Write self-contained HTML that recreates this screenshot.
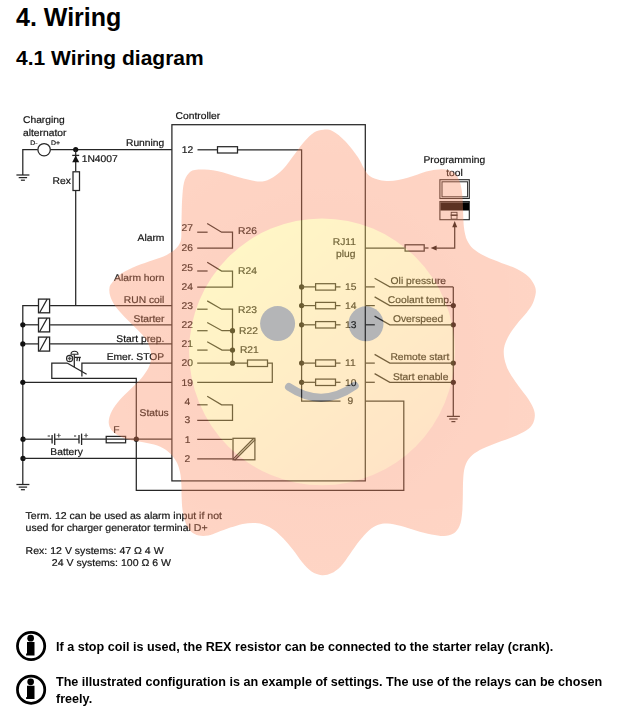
<!DOCTYPE html>
<html><head><meta charset="utf-8"><title>4. Wiring</title>
<style>
html,body{margin:0;padding:0;background:#fff;}
body{width:639px;height:714px;position:relative;overflow:hidden;font-family:"Liberation Sans",sans-serif;color:#000;}
h1,h2,p{margin:0;padding:0;position:absolute;white-space:nowrap;font-weight:bold;transform-origin:0 0;}
h1{left:16px;top:3.3px;font-size:25px;line-height:29px;}
h2{left:16px;top:45.9px;font-size:21px;line-height:24px;}
p{font-size:13px;line-height:16.5px;transform:scaleX(0.968);}
svg{position:absolute;left:0;top:0;will-change:transform;}
svg text{font-family:"Liberation Sans",sans-serif;text-rendering:geometricPrecision;stroke:#151515;stroke-width:0.2px;}
</style></head><body>
<h1>4. Wiring</h1>
<h2>4.1 Wiring diagram</h2>
<svg width="639" height="714" viewBox="0 0 639 714">
<rect x="171.9" y="124.7" width="193.4" height="356.2" fill="none" stroke="#262626" stroke-width="1.25"/>
<text transform="translate(175.6 118.9) scale(1.050 1)" font-size="9.80" text-anchor="start" fill="#151515">Controller</text>
<path d="M22.8 175.0 L22.8 149.5 L37.8 149.5" stroke="#262626" stroke-width="1.25" fill="none"/>
<circle cx="44.1" cy="149.7" r="6.2" fill="#fff" stroke="#262626" stroke-width="1.25"/>
<path d="M50.4 149.5 L171.9 149.5" stroke="#262626" stroke-width="1.25" fill="none"/>
<path d="M16.4 175.0 L29.4 175.0" stroke="#262626" stroke-width="1.25" fill="none"/>
<path d="M18.7 177.6 L27.1 177.6" stroke="#262626" stroke-width="1.25" fill="none"/>
<path d="M20.9 180.2 L24.9 180.2" stroke="#262626" stroke-width="1.25" fill="none"/>
<text transform="translate(23.0 123.0) scale(1.050 1)" font-size="9.80" text-anchor="start" fill="#151515">Charging</text>
<text transform="translate(23.0 135.6) scale(1.050 1)" font-size="9.80" text-anchor="start" fill="#151515">alternator</text>
<text transform="translate(30.3 144.6) scale(1.050 1)" font-size="6.60" text-anchor="start" fill="#151515">D-</text>
<text transform="translate(50.9 144.6) scale(1.050 1)" font-size="6.60" text-anchor="start" fill="#151515">D+</text>
<circle cx="75.7" cy="149.5" r="2.6" fill="#111"/>
<path d="M75.7 149.5 L75.7 171.3" stroke="#262626" stroke-width="1.25" fill="none"/>
<path d="M72.2 155.4 L79.2 155.4" stroke="#262626" stroke-width="1.30" fill="none"/>
<path d="M75.7 155.4L79.2 162.3L72.2 162.3Z" fill="#111"/>
<text transform="translate(81.7 161.9) scale(1.050 1)" font-size="9.80" text-anchor="start" fill="#151515">1N4007</text>
<rect x="73.0" y="171.8" width="6.5" height="18.7" fill="#fff" stroke="#262626" stroke-width="1.25"/>
<text transform="translate(52.6 183.9) scale(1.050 1)" font-size="9.80" text-anchor="start" fill="#151515">Rex</text>
<path d="M75.7 191.0 L75.7 305.6" stroke="#262626" stroke-width="1.25" fill="none"/>
<text transform="translate(164.3 146.0) scale(1.050 1)" font-size="9.80" text-anchor="end" fill="#151515">Running</text>
<text transform="translate(181.8 153.0) scale(1.050 1)" font-size="9.80" text-anchor="start" fill="#151515">12</text>
<path d="M197.5 149.8 L217.0 149.8" stroke="#262626" stroke-width="1.25" fill="none"/>
<rect x="217.5" y="146.7" width="20.0" height="6.3" fill="#fff" stroke="#262626" stroke-width="1.25"/>
<path d="M238.0 149.8 L301.6 149.8 L301.6 401.0 L340.5 401.0" stroke="#262626" stroke-width="1.25" fill="none"/>
<text transform="translate(181.6 230.7) scale(1.050 1)" font-size="9.80" text-anchor="start" fill="#151515">27</text>
<text transform="translate(181.6 250.7) scale(1.050 1)" font-size="9.80" text-anchor="start" fill="#151515">26</text>
<path d="M197.2 232.2 L207.6 232.2" stroke="#262626" stroke-width="1.25" fill="none"/>
<path d="M207.2 223.5 L221.6 232.2 L232.5 232.2 L232.5 248.0 L197.2 248.0" stroke="#262626" stroke-width="1.25" fill="none"/>
<text transform="translate(238.0 234.4) scale(1.050 1)" font-size="9.80" text-anchor="start" fill="#151515">R26</text>
<text transform="translate(181.6 270.7) scale(1.050 1)" font-size="9.80" text-anchor="start" fill="#151515">25</text>
<text transform="translate(181.6 289.8) scale(1.050 1)" font-size="9.80" text-anchor="start" fill="#151515">24</text>
<path d="M197.2 271.0 L207.6 271.0" stroke="#262626" stroke-width="1.25" fill="none"/>
<path d="M207.2 262.3 L221.6 271.0 L232.5 271.0 L232.5 287.0 L197.2 287.0" stroke="#262626" stroke-width="1.25" fill="none"/>
<text transform="translate(238.0 273.5) scale(1.050 1)" font-size="9.80" text-anchor="start" fill="#151515">R24</text>
<text transform="translate(181.6 308.8) scale(1.050 1)" font-size="9.80" text-anchor="start" fill="#151515">23</text>
<text transform="translate(181.6 327.6) scale(1.050 1)" font-size="9.80" text-anchor="start" fill="#151515">22</text>
<text transform="translate(181.6 346.7) scale(1.050 1)" font-size="9.80" text-anchor="start" fill="#151515">21</text>
<text transform="translate(181.6 365.7) scale(1.050 1)" font-size="9.80" text-anchor="start" fill="#151515">20</text>
<text transform="translate(181.6 385.7) scale(1.050 1)" font-size="9.80" text-anchor="start" fill="#151515">19</text>
<path d="M197.2 309.2 L207.6 309.2" stroke="#262626" stroke-width="1.25" fill="none"/>
<path d="M207.2 300.9 L221.6 309.2 L232.5 309.2 L232.5 363.2" stroke="#262626" stroke-width="1.25" fill="none"/>
<path d="M197.2 330.7 L207.6 330.7" stroke="#262626" stroke-width="1.25" fill="none"/>
<path d="M207.2 322.5 L222.0 330.7 L232.5 330.7" stroke="#262626" stroke-width="1.25" fill="none"/>
<path d="M197.2 350.1 L207.6 350.1" stroke="#262626" stroke-width="1.25" fill="none"/>
<path d="M207.2 341.8 L222.0 350.1 L232.5 350.1" stroke="#262626" stroke-width="1.25" fill="none"/>
<circle cx="232.5" cy="330.7" r="2.6" fill="#111"/>
<circle cx="232.5" cy="350.1" r="2.6" fill="#111"/>
<circle cx="232.5" cy="363.2" r="2.6" fill="#111"/>
<text transform="translate(238.0 312.5) scale(1.050 1)" font-size="9.80" text-anchor="start" fill="#151515">R23</text>
<text transform="translate(239.1 333.6) scale(1.050 1)" font-size="9.80" text-anchor="start" fill="#151515">R22</text>
<text transform="translate(239.9 352.5) scale(1.050 1)" font-size="9.80" text-anchor="start" fill="#151515">R21</text>
<path d="M197.2 363.2 L247.0 363.2" stroke="#262626" stroke-width="1.25" fill="none"/>
<rect x="247.5" y="360.0" width="20.0" height="6.5" fill="#fff" stroke="#262626" stroke-width="1.25"/>
<path d="M268.0 363.2 L272.3 363.2 L272.3 382.3 L197.2 382.3" stroke="#262626" stroke-width="1.25" fill="none"/>
<text transform="translate(184.4 404.5) scale(1.050 1)" font-size="9.80" text-anchor="start" fill="#151515">4</text>
<text transform="translate(184.4 423.2) scale(1.050 1)" font-size="9.80" text-anchor="start" fill="#151515">3</text>
<path d="M197.2 404.8 L207.6 404.8" stroke="#262626" stroke-width="1.25" fill="none"/>
<path d="M207.2 396.2 L221.6 404.8 L232.5 404.8 L232.5 420.4 L197.2 420.4" stroke="#262626" stroke-width="1.25" fill="none"/>
<text transform="translate(184.8 442.9) scale(1.050 1)" font-size="9.80" text-anchor="start" fill="#151515">1</text>
<text transform="translate(184.4 461.6) scale(1.050 1)" font-size="9.80" text-anchor="start" fill="#151515">2</text>
<path d="M197.2 439.4 L232.5 439.4" stroke="#262626" stroke-width="1.25" fill="none"/>
<path d="M197.2 458.8 L232.5 458.8" stroke="#262626" stroke-width="1.25" fill="none"/>
<rect x="233.0" y="438.3" width="21.9" height="21.5" fill="none" stroke="#262626" stroke-width="1.25"/>
<path d="M232.8 459.4 L253.8 438.2" stroke="#262626" stroke-width="1.25" fill="none"/>
<path d="M234.6 460.2 L255.2 439.6" stroke="#262626" stroke-width="1.25" fill="none"/>
<circle cx="301.6" cy="286.9" r="2.6" fill="#111"/>
<path d="M301.6 286.9 L315.1 286.9" stroke="#262626" stroke-width="1.25" fill="none"/>
<rect x="315.6" y="283.7" width="19.9" height="6.4" fill="none" stroke="#262626" stroke-width="1.25"/>
<path d="M336.0 286.9 L340.5 286.9" stroke="#262626" stroke-width="1.25" fill="none"/>
<text transform="translate(345.0 290.0) scale(1.050 1)" font-size="9.80" text-anchor="start" fill="#151515">15</text>
<path d="M365.3 286.9 L374.8 286.9" stroke="#262626" stroke-width="1.25" fill="none"/>
<path d="M374.6 278.2 L389.8 286.9 L453.3 286.9" stroke="#262626" stroke-width="1.25" fill="none"/>
<circle cx="301.6" cy="305.6" r="2.6" fill="#111"/>
<path d="M301.6 305.6 L315.1 305.6" stroke="#262626" stroke-width="1.25" fill="none"/>
<rect x="315.6" y="302.4" width="19.9" height="6.4" fill="none" stroke="#262626" stroke-width="1.25"/>
<path d="M336.0 305.6 L340.5 305.6" stroke="#262626" stroke-width="1.25" fill="none"/>
<text transform="translate(345.0 308.8) scale(1.050 1)" font-size="9.80" text-anchor="start" fill="#151515">14</text>
<path d="M365.3 305.6 L374.8 305.6" stroke="#262626" stroke-width="1.25" fill="none"/>
<path d="M374.6 296.9 L389.8 305.6 L453.3 305.6" stroke="#262626" stroke-width="1.25" fill="none"/>
<circle cx="301.6" cy="324.8" r="2.6" fill="#111"/>
<path d="M301.6 324.8 L315.1 324.8" stroke="#262626" stroke-width="1.25" fill="none"/>
<rect x="315.6" y="321.6" width="19.9" height="6.4" fill="none" stroke="#262626" stroke-width="1.25"/>
<path d="M336.0 324.8 L340.5 324.8" stroke="#262626" stroke-width="1.25" fill="none"/>
<text transform="translate(345.0 327.6) scale(1.050 1)" font-size="9.80" text-anchor="start" fill="#151515">13</text>
<path d="M365.3 324.8 L374.8 324.8" stroke="#262626" stroke-width="1.25" fill="none"/>
<path d="M374.6 316.1 L389.8 324.8 L453.3 324.8" stroke="#262626" stroke-width="1.25" fill="none"/>
<circle cx="301.6" cy="363.1" r="2.6" fill="#111"/>
<path d="M301.6 363.1 L315.1 363.1" stroke="#262626" stroke-width="1.25" fill="none"/>
<rect x="315.6" y="359.9" width="19.9" height="6.4" fill="none" stroke="#262626" stroke-width="1.25"/>
<path d="M336.0 363.1 L340.5 363.1" stroke="#262626" stroke-width="1.25" fill="none"/>
<text transform="translate(345.0 365.9) scale(1.050 1)" font-size="9.80" text-anchor="start" fill="#151515">11</text>
<path d="M365.3 363.1 L374.8 363.1" stroke="#262626" stroke-width="1.25" fill="none"/>
<path d="M374.6 354.4 L389.8 363.1 L453.3 363.1" stroke="#262626" stroke-width="1.25" fill="none"/>
<circle cx="301.6" cy="382.3" r="2.6" fill="#111"/>
<path d="M301.6 382.3 L315.1 382.3" stroke="#262626" stroke-width="1.25" fill="none"/>
<rect x="315.6" y="379.1" width="19.9" height="6.4" fill="none" stroke="#262626" stroke-width="1.25"/>
<path d="M336.0 382.3 L340.5 382.3" stroke="#262626" stroke-width="1.25" fill="none"/>
<text transform="translate(345.0 385.6) scale(1.050 1)" font-size="9.80" text-anchor="start" fill="#151515">10</text>
<path d="M365.3 382.3 L374.8 382.3" stroke="#262626" stroke-width="1.25" fill="none"/>
<path d="M374.6 373.6 L389.8 382.3 L453.3 382.3" stroke="#262626" stroke-width="1.25" fill="none"/>
<text transform="translate(347.4 404.4) scale(1.050 1)" font-size="9.80" text-anchor="start" fill="#151515">9</text>
<path d="M453.3 286.9 L453.3 416.4" stroke="#262626" stroke-width="1.25" fill="none"/>
<path d="M446.9 416.4 L459.9 416.4" stroke="#262626" stroke-width="1.25" fill="none"/>
<path d="M449.2 419.0 L457.6 419.0" stroke="#262626" stroke-width="1.25" fill="none"/>
<path d="M451.4 421.6 L455.4 421.6" stroke="#262626" stroke-width="1.25" fill="none"/>
<circle cx="453.3" cy="305.6" r="2.6" fill="#111"/>
<circle cx="453.3" cy="324.8" r="2.6" fill="#111"/>
<circle cx="453.3" cy="363.1" r="2.6" fill="#111"/>
<circle cx="453.3" cy="382.3" r="2.6" fill="#111"/>
<text transform="translate(390.6 284.0) scale(1.050 1)" font-size="9.80" text-anchor="start" fill="#151515">Oli pressure</text>
<text transform="translate(387.8 302.8) scale(1.050 1)" font-size="9.80" text-anchor="start" fill="#151515">Coolant temp.</text>
<text transform="translate(392.9 321.6) scale(1.050 1)" font-size="9.80" text-anchor="start" fill="#151515">Overspeed</text>
<text transform="translate(390.4 360.3) scale(1.050 1)" font-size="9.80" text-anchor="start" fill="#151515">Remote start</text>
<text transform="translate(392.9 379.8) scale(1.050 1)" font-size="9.80" text-anchor="start" fill="#151515">Start enable</text>
<path d="M365.3 401.0 L403.8 401.0 L403.8 490.4 L136.3 490.4 L136.3 378.3 L51.8 378.3 L51.8 363.0 L67.1 363.0" stroke="#262626" stroke-width="1.25" fill="none"/>
<text transform="translate(332.8 245.0) scale(1.050 1)" font-size="9.80" text-anchor="start" fill="#151515">RJ11</text>
<text transform="translate(336.0 257.0) scale(1.050 1)" font-size="9.80" text-anchor="start" fill="#151515">plug</text>
<path d="M365.3 248.0 L404.6 248.0" stroke="#262626" stroke-width="1.25" fill="none"/>
<rect x="405.1" y="244.8" width="19.1" height="6.3" fill="none" stroke="#262626" stroke-width="1.25"/>
<path d="M424.7 248.0 L428.5 248.0" stroke="#262626" stroke-width="1.25" fill="none"/>
<path d="M430.6 248L436.6 245.4L436.6 250.6Z" fill="#111"/>
<path d="M436.0 248.0 L454.7 248.0 L454.7 226.0" stroke="#262626" stroke-width="1.25" fill="none"/>
<path d="M454.7 221L457.2 227.3L452.2 227.3Z" fill="#111"/>
<text transform="translate(423.4 162.9) scale(1.050 1)" font-size="9.80" text-anchor="start" fill="#151515">Programming</text>
<text transform="translate(446.2 176.4) scale(1.050 1)" font-size="9.80" text-anchor="start" fill="#151515">tool</text>
<rect x="439.9" y="179.7" width="29.4" height="18.8" fill="#fff" stroke="#262626" stroke-width="1.10"/>
<rect x="442.0" y="181.8" width="25.6" height="15.0" fill="#fff" stroke="#262626" stroke-width="1.00"/>
<rect x="439.9" y="201.5" width="29.4" height="18.2" fill="#fff" stroke="#262626" stroke-width="1.10"/>
<rect x="440.4" y="202.3" width="28.6" height="8.2" fill="#000"/>
<rect x="451.2" y="212.3" width="5.8" height="6.8" fill="#fff" stroke="#262626" stroke-width="0.90"/>
<path d="M450.7 215.2 L457.5 215.2" stroke="#262626" stroke-width="1.60" fill="none"/>
<path d="M22.8 484.5 L22.8 305.6 L38.0 305.6" stroke="#262626" stroke-width="1.25" fill="none"/>
<rect x="38.5" y="299.1" width="11.1" height="13.7" fill="#fff" stroke="#262626" stroke-width="1.30"/>
<path d="M39.6 312.7 L47.2 299.1" stroke="#262626" stroke-width="1.20" fill="none"/>
<path d="M50.1 305.6 L171.9 305.6" stroke="#262626" stroke-width="1.25" fill="none"/>
<path d="M22.8 324.8 L38.0 324.8" stroke="#262626" stroke-width="1.25" fill="none"/>
<circle cx="22.8" cy="324.8" r="2.6" fill="#111"/>
<rect x="38.5" y="318.1" width="11.1" height="13.8" fill="#fff" stroke="#262626" stroke-width="1.30"/>
<path d="M39.6 331.8 L47.2 318.1" stroke="#262626" stroke-width="1.20" fill="none"/>
<path d="M50.1 324.8 L171.9 324.8" stroke="#262626" stroke-width="1.25" fill="none"/>
<path d="M22.8 343.9 L38.0 343.9" stroke="#262626" stroke-width="1.25" fill="none"/>
<circle cx="22.8" cy="343.9" r="2.6" fill="#111"/>
<rect x="38.5" y="337.1" width="11.1" height="14.0" fill="#fff" stroke="#262626" stroke-width="1.30"/>
<path d="M39.6 351.0 L47.2 337.1" stroke="#262626" stroke-width="1.20" fill="none"/>
<path d="M50.1 343.9 L171.9 343.9" stroke="#262626" stroke-width="1.25" fill="none"/>
<text transform="translate(164.4 241.0) scale(1.050 1)" font-size="9.80" text-anchor="end" fill="#151515">Alarm</text>
<text transform="translate(164.4 280.8) scale(1.050 1)" font-size="9.80" text-anchor="end" fill="#151515">Alarm horn</text>
<text transform="translate(164.4 302.7) scale(1.050 1)" font-size="9.80" text-anchor="end" fill="#151515">RUN coil</text>
<text transform="translate(164.4 322.0) scale(1.050 1)" font-size="9.80" text-anchor="end" fill="#151515">Starter</text>
<text transform="translate(164.4 341.6) scale(1.050 1)" font-size="9.80" text-anchor="end" fill="#151515">Start prep.</text>
<text transform="translate(164.2 360.3) scale(1.050 1)" font-size="9.80" text-anchor="end" fill="#151515">Emer. STOP</text>
<text transform="translate(139.6 415.8) scale(1.050 1)" font-size="9.80" text-anchor="start" fill="#151515">Status</text>
<path d="M67.1 363.0 L86.6 374.3" stroke="#262626" stroke-width="1.25" fill="none"/>
<path d="M81.9 376.6 L81.9 363.0 L171.9 363.0" stroke="#262626" stroke-width="1.25" fill="none"/>
<path d="M74.3 354.3 L74.3 367.0" stroke="#262626" stroke-width="1.25" fill="none"/>
<path d="M71 354.3A3.5 3 0 0 1 78 354.3Z" fill="#fff" stroke="#262626" stroke-width="1.1"/>
<circle cx="69.6" cy="358.5" r="3.1" fill="#e8e8e8" stroke="#262626" stroke-width="1.1"/>
<path d="M67.6 358.5 L71.6 358.5" stroke="#555" stroke-width="1.30" fill="none"/>
<path d="M69.6 356.5 L69.6 360.5" stroke="#555" stroke-width="1.30" fill="none"/>
<path d="M74.3 357.4 L80.8 357.4" stroke="#262626" stroke-width="1.30" fill="none"/>
<path d="M77.4 357.4 L76.9 361.2" stroke="#262626" stroke-width="1.20" fill="none"/>
<path d="M79.7 357.4 L79.3 361.2" stroke="#262626" stroke-width="1.20" fill="none"/>
<path d="M22.8 382.3 L171.9 382.3" stroke="#262626" stroke-width="1.25" fill="none"/>
<circle cx="22.8" cy="382.3" r="2.6" fill="#111"/>
<circle cx="23.0" cy="439.2" r="2.6" fill="#111"/>
<circle cx="23.0" cy="458.4" r="2.6" fill="#111"/>
<path d="M22.8 439.2 L52.1 439.2" stroke="#262626" stroke-width="1.25" fill="none"/>
<path d="M54.7 439.2 L79.0 439.2" stroke="#262626" stroke-width="1.25" fill="none"/>
<path d="M81.6 439.2 L171.9 439.2" stroke="#262626" stroke-width="1.25" fill="none"/>
<path d="M52.1 435.0 L52.1 443.6" stroke="#262626" stroke-width="1.30" fill="none"/>
<path d="M54.7 433.6 L54.7 445.0" stroke="#262626" stroke-width="1.30" fill="none"/>
<path d="M79.0 435.0 L79.0 443.6" stroke="#262626" stroke-width="1.30" fill="none"/>
<path d="M81.6 433.6 L81.6 445.0" stroke="#262626" stroke-width="1.30" fill="none"/>
<text transform="translate(48.8 438.2) scale(1.050 1)" font-size="7.50" text-anchor="middle" fill="#151515">-</text>
<text transform="translate(58.9 438.2) scale(1.050 1)" font-size="7.50" text-anchor="middle" fill="#151515">+</text>
<text transform="translate(75.1 438.2) scale(1.050 1)" font-size="7.50" text-anchor="middle" fill="#151515">-</text>
<text transform="translate(86.0 438.2) scale(1.050 1)" font-size="7.50" text-anchor="middle" fill="#151515">+</text>
<rect x="106.2" y="436.4" width="19.4" height="6.4" fill="none" stroke="#262626" stroke-width="1.25"/>
<text transform="translate(113.2 432.6) scale(1.050 1)" font-size="9.80" text-anchor="start" fill="#151515">F</text>
<circle cx="136.3" cy="439.2" r="2.6" fill="#111"/>
<text transform="translate(50.3 455.4) scale(1.050 1)" font-size="9.80" text-anchor="start" fill="#151515">Battery</text>
<path d="M22.8 458.4 L171.9 458.4" stroke="#262626" stroke-width="1.25" fill="none"/>
<path d="M16.4 484.5 L29.4 484.5" stroke="#262626" stroke-width="1.25" fill="none"/>
<path d="M18.7 487.1 L27.1 487.1" stroke="#262626" stroke-width="1.25" fill="none"/>
<path d="M20.9 489.7 L24.9 489.7" stroke="#262626" stroke-width="1.25" fill="none"/>
<text transform="translate(25.6 518.8) scale(1.068 1)" font-size="9.90" text-anchor="start" fill="#151515">Term. 12 can be used as alarm input if not</text>
<text transform="translate(25.6 530.8) scale(1.068 1)" font-size="9.90" text-anchor="start" fill="#151515">used for charger generator terminal D+</text>
<text transform="translate(25.6 553.8) scale(1.068 1)" font-size="9.90" text-anchor="start" fill="#151515">Rex: 12 V systems: 47 &#937; 4 W</text>
<text transform="translate(51.8 566.2) scale(1.068 1)" font-size="9.90" text-anchor="start" fill="#151515">24 V systems: 100 &#937; 6 W</text>
<defs>
<linearGradient id="fg" gradientUnits="userSpaceOnUse" x1="237.5" y1="250.2" x2="406.5" y2="453.4"><stop offset="0" stop-color="#FFE765"/><stop offset="1" stop-color="#FFB665"/></linearGradient>
<radialGradient id="rg" gradientUnits="userSpaceOnUse" cx="324" cy="349" r="225"><stop offset="0.58" stop-color="#FA855A"/><stop offset="1" stop-color="#FC8B60"/></radialGradient>
</defs>
<g opacity="0.37">
<path d="M323.4 129.7C326.5 129.5 329.1 129.4 332.8 131.3C336.5 133.2 341.1 137.0 345.3 141.3C349.5 145.6 354.7 152.5 357.8 157.0C360.9 161.5 362.0 165.3 364.0 168.5C366.0 171.7 367.4 174.4 370.0 176.3C372.6 178.2 376.3 179.2 379.4 180.0C382.5 180.8 385.7 181.0 388.8 181.0C391.9 181.0 395.1 180.5 398.2 180.0C401.3 179.5 404.5 178.7 407.6 177.8C410.7 176.9 413.9 175.8 417.0 174.8C420.1 173.8 423.2 172.4 426.3 171.6C429.4 170.8 432.9 170.1 435.7 169.7C438.5 169.3 440.7 169.1 443.2 169.3C445.7 169.5 448.6 170.0 450.8 171.0C453.0 172.0 454.9 173.6 456.4 175.4C457.9 177.2 458.9 179.6 459.8 181.9C460.7 184.2 461.1 186.6 461.6 189.4C462.1 192.2 462.4 195.7 462.6 198.8C462.8 201.9 462.9 205.1 463.0 208.2C463.1 211.3 463.2 214.5 463.3 217.6C463.4 220.7 463.6 224.2 463.9 227.0C464.2 229.8 464.6 232.2 465.2 234.5C465.8 236.8 465.9 238.1 467.2 240.5C468.5 242.9 470.1 246.1 473.2 248.8C476.3 251.5 481.0 254.3 485.7 256.6C490.4 259.0 496.2 260.8 501.4 262.9C506.6 265.0 512.6 266.8 517.0 269.0C521.4 271.2 525.1 273.7 528.0 276.3C530.9 278.9 532.9 282.1 534.2 284.8C535.5 287.5 536.0 289.5 535.8 292.6C535.5 295.7 534.3 300.1 532.7 303.5C531.1 306.9 529.0 309.6 526.4 313.0C523.8 316.4 519.9 320.2 517.0 323.9C514.1 327.5 511.3 331.2 509.2 334.9C507.1 338.5 505.4 342.4 504.5 345.8C503.6 349.2 503.6 352.1 503.9 355.2C504.1 358.3 505.1 361.7 506.0 364.6C506.9 367.5 507.4 368.8 509.5 372.5C511.6 376.2 515.8 382.2 518.9 386.6C522.0 391.0 525.8 395.1 528.3 399.0C530.8 402.9 533.0 406.9 534.0 410.0C535.0 413.1 535.0 415.3 534.6 417.9C534.2 420.5 533.3 423.3 531.5 425.7C529.7 428.1 527.3 429.9 523.6 432.0C519.9 434.1 514.5 436.2 509.5 438.2C504.6 440.2 498.8 441.9 493.9 443.9C488.9 445.9 483.7 447.8 479.8 450.0C475.9 452.2 472.9 454.3 470.4 457.0C467.9 459.7 466.2 462.8 465.0 466.4C463.8 470.0 463.6 473.7 463.2 478.9C462.8 484.1 463.0 491.9 462.8 497.6C462.6 503.3 462.6 508.5 462.1 513.2C461.6 517.9 461.1 522.3 459.6 525.7C458.2 529.1 456.0 531.9 453.4 533.6C450.8 535.3 447.6 535.9 444.0 536.0C440.4 536.1 436.2 535.4 431.5 534.5C426.8 533.6 421.0 531.9 415.8 530.4C410.6 528.9 404.9 526.9 400.2 525.7C395.5 524.6 391.3 523.6 387.6 523.5C383.9 523.4 381.3 523.6 378.2 524.8C375.1 525.9 372.0 527.7 368.9 530.4C365.8 533.1 362.6 536.9 359.5 540.8C356.4 544.7 353.1 549.6 350.0 553.9C346.9 558.2 343.8 563.2 340.7 566.4C337.6 569.6 334.4 571.8 331.3 573.3C328.2 574.8 325.2 575.5 321.9 575.2C318.6 574.9 314.8 573.7 311.5 571.5C308.2 569.3 305.1 565.7 302.0 562.0C298.9 558.3 295.9 553.4 292.8 549.5C289.7 545.6 286.5 541.9 283.4 538.6C280.3 535.4 277.1 532.3 274.0 530.0C270.9 527.7 267.7 526.2 264.6 525.0C261.5 523.8 258.9 523.2 255.2 523.0C251.5 522.8 246.9 523.1 242.7 523.9C238.5 524.7 234.4 526.2 230.2 527.6C226.0 529.0 221.3 531.0 217.6 532.3C213.9 533.6 211.3 535.0 208.2 535.5C205.1 536.0 201.8 536.2 198.9 535.5C196.0 534.8 193.2 533.5 191.0 531.4C188.8 529.3 187.1 526.4 185.7 522.9C184.3 519.4 183.3 514.8 182.6 510.4C181.9 506.0 181.8 500.6 181.6 496.3C181.4 492.0 181.7 488.7 181.4 484.6C181.1 480.6 180.9 475.9 180.0 472.0C179.1 468.1 178.0 464.4 176.0 461.0C174.0 457.6 171.3 454.3 168.2 451.7C165.1 449.1 161.5 447.1 157.3 445.5C153.1 443.9 148.1 443.4 143.2 442.3C138.2 441.2 132.0 440.5 127.6 439.2C123.2 437.9 119.5 436.3 116.6 434.5C113.7 432.7 111.6 430.6 110.3 428.2C109.0 425.8 108.5 423.3 108.8 420.4C109.1 417.5 110.1 414.4 111.9 411.0C113.7 407.6 116.6 403.7 119.7 400.0C122.8 396.3 127.0 392.7 130.7 389.0C134.3 385.3 138.5 381.9 141.6 378.0C144.7 374.1 147.9 369.8 149.5 365.6C151.1 361.4 151.5 357.3 151.0 353.0C150.5 348.7 148.6 344.0 146.3 340.0C144.0 336.0 140.7 333.1 137.0 329.2C133.3 325.3 128.1 320.6 124.4 316.7C120.7 312.8 117.3 309.1 115.0 305.7C112.7 302.3 111.2 299.2 110.3 296.3C109.4 293.4 109.1 290.7 109.4 288.5C109.7 286.3 109.9 285.5 111.9 283.0C113.9 280.5 117.1 276.5 121.3 273.6C125.5 270.7 131.8 268.0 137.0 265.8C142.2 263.6 147.7 262.0 152.6 260.2C157.5 258.4 162.8 256.8 166.7 254.9C170.6 253.0 173.7 250.9 176.0 248.6C178.3 246.2 179.9 244.2 180.8 240.8C181.7 237.4 181.2 232.9 181.4 228.2C181.6 223.5 181.5 217.8 181.7 212.6C181.8 207.4 181.9 201.9 182.3 197.0C182.7 192.1 182.9 186.8 183.9 182.9C184.9 179.0 186.5 175.7 188.6 173.5C190.7 171.3 191.7 170.1 196.4 169.7C201.1 169.3 209.9 169.7 217.0 171.0C224.1 172.3 232.1 175.6 238.9 177.3C245.7 179.0 252.4 181.1 257.6 181.4C262.8 181.7 265.8 180.9 270.0 178.9C274.2 176.9 278.5 173.7 282.7 169.5C286.9 165.3 291.4 158.5 295.0 153.8C298.6 149.1 301.4 144.9 304.6 141.3C307.8 137.8 310.9 134.4 314.0 132.5C317.1 130.6 320.3 129.9 323.4 129.7Z" fill="url(#rg)"/>
<ellipse cx="322" cy="351.8" rx="132.9" ry="133.4" fill="url(#fg)"/>
<circle cx="277.6" cy="323.6" r="17.5" fill="#34373C"/>
<circle cx="366" cy="323.8" r="17.5" fill="#34373C"/>
<path d="M289 387Q322 409 354.7 385.8" fill="none" stroke="#34373C" stroke-width="8" stroke-linecap="round"/>
</g>
<g transform="translate(31.1 646.00)"><circle r="13.65" fill="#fff" stroke="#000" stroke-width="2.75"/>
<circle cx="-0.45" cy="-7.8" r="3.35" fill="#000"/>
<path d="M-4.1 -4H3.4V9.4H-5V7.7L-4.1 7.3Z" fill="#000"/></g>
<g transform="translate(31.1 689.65)"><circle r="13.65" fill="#fff" stroke="#000" stroke-width="2.75"/>
<circle cx="-0.45" cy="-7.8" r="3.35" fill="#000"/>
<path d="M-4.1 -4H3.4V9.4H-5V7.7L-4.1 7.3Z" fill="#000"/></g>
</svg>
<p style="left:56px;top:638.9px;">If a stop coil is used, the REX resistor can be connected to the starter relay (crank).</p>
<p style="left:56px;top:674.2px;">The illustrated configuration is an example of settings. The use of the relays can be chosen<br>freely.</p>
</body></html>
